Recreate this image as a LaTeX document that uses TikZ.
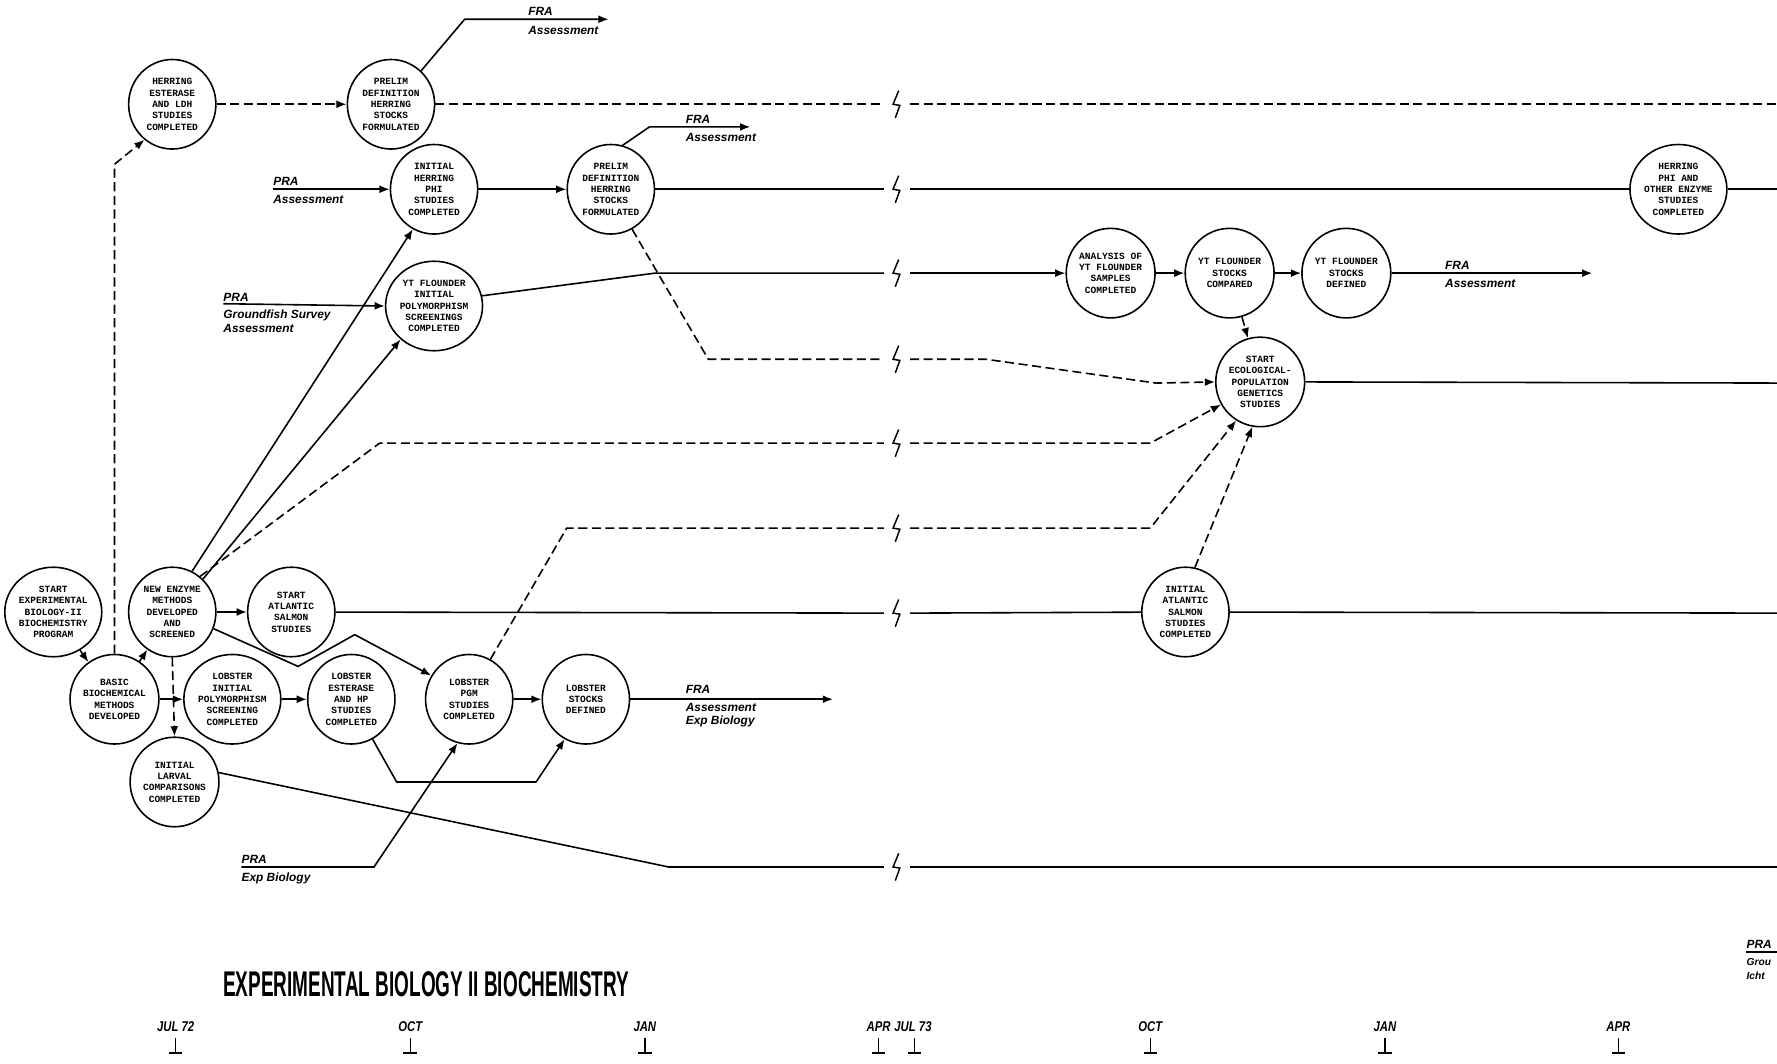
\documentclass[tikz,border=0pt]{standalone}
\usepackage{fontspec}
\setmainfont{Liberation Sans}
\setsansfont{Liberation Sans}
\setmonofont{Liberation Mono}
\usepackage{graphicx}
\usetikzlibrary{shapes.geometric,arrows.meta}
\tikzset{
  ev/.style={ellipse, draw, line width=1.4pt, minimum width=77pt, minimum height=79pt, inner sep=0pt, align=center,
    font=\ttfamily\bfseries\fontsize{8.4}{10}\selectfont},
  ln/.style={line width=1.4pt},
  dl/.style={line width=1.4pt, dash pattern=on 8pt off 4pt},
  arr/.style={-{Latex[length=9pt,width=7pt]}},
  lab/.style={anchor=west, inner sep=0pt, font=\sffamily\bfseries\itshape\fontsize{10.5}{12}\selectfont},
  mon/.style={inner sep=0pt, font=\sffamily\bfseries\itshape\fontsize{12.5}{12}\selectfont},
  brk/.pic={\draw[line width=1.3pt, line join=miter] (2,-12) -- (-3,0) -- (3,1) -- (-1,12);},
  tick/.pic={\draw[line width=1.2pt] (0,-6) -- (0,7) (-6,7) -- (6,7);}
}
\begin{document}
\begin{tikzpicture}[x=1pt,y=-1pt]
\useasboundingbox (0,0) rectangle (1568,938);

% nodes
\node[ev] (n1) at (47,540) {START\\EXPERIMENTAL\\BIOLOGY-II\\BIOCHEMISTRY\\PROGRAM};
\node[ev] (n2) at (101,617) {BASIC\\BIOCHEMICAL\\METHODS\\DEVELOPED};
\node[ev] (n3) at (152,540) {NEW ENZYME\\METHODS\\DEVELOPED\\AND\\SCREENED};
\node[ev] (n4) at (257,540) {START\\ATLANTIC\\SALMON\\STUDIES};
\node[ev] (n5) at (205,617) {LOBSTER\\INITIAL\\POLYMORPHISM\\SCREENING\\COMPLETED};
\node[ev] (n6) at (310,617) {LOBSTER\\ESTERASE\\AND HP\\STUDIES\\COMPLETED};
\node[ev] (n7) at (414,617) {LOBSTER\\PGM\\STUDIES\\COMPLETED};
\node[ev] (n8) at (517,617) {LOBSTER\\STOCKS\\DEFINED};
\node[ev] (n9) at (154,690) {INITIAL\\LARVAL\\COMPARISONS\\COMPLETED};
\node[ev] (n10) at (152,92) {HERRING\\ESTERASE\\AND LDH\\STUDIES\\COMPLETED};
\node[ev] (n11) at (345,92) {PRELIM\\DEFINITION\\HERRING\\STOCKS\\FORMULATED};
\node[ev] (n12) at (383,167) {INITIAL\\HERRING\\PHI\\STUDIES\\COMPLETED};
\node[ev] (n13) at (539,167) {PRELIM\\DEFINITION\\HERRING\\STOCKS\\FORMULATED};
\node[ev] (n14) at (383,270) {YT FLOUNDER\\INITIAL\\POLYMORPHISM\\SCREENINGS\\COMPLETED};
\node[ev] (n15) at (980,241) {ANALYSIS OF\\YT FLOUNDER\\SAMPLES\\COMPLETED};
\node[ev] (n16) at (1085,241) {YT FLOUNDER\\STOCKS\\COMPARED};
\node[ev] (n17) at (1188,241) {YT FLOUNDER\\STOCKS\\DEFINED};
\node[ev] (n18) at (1112,337) {START\\ECOLOGICAL-\\POPULATION\\GENETICS\\STUDIES};
\node[ev] (n19) at (1046,540) {INITIAL\\ATLANTIC\\SALMON\\STUDIES\\COMPLETED};
\node[ev] (n20) at (1481,167) {HERRING\\PHI AND\\OTHER ENZYME\\STUDIES\\COMPLETED};

% coordinates
\coordinate (f1) at (537,17);
\coordinate (f2) at (662,112);
\coordinate (f3) at (1405,241);
\coordinate (f4) at (735,617);
\coordinate (p1) at (241,167);
\coordinate (p2) at (197,268);
\coordinate (p3) at (213,765);
\coordinate (r92) at (1568,92);
\coordinate (r167) at (1568,167);
\coordinate (r338) at (1568,338);
\coordinate (r541) at (1568,541);
\coordinate (r765) at (1568,765);

% row 92
\draw[dl,arr] (n10) -- (n11);
\draw[dl] (n11.east) -- (780,92);
\draw[dl] (803,92) -- (r92);
\draw[ln,arr] (n11.48) -- (410,17) -- (f1);
\node[lab] (t1) at (466,10) {FRA};
\node[lab] (t2) at (466,27) {Assessment};

% row 167
\draw[ln,arr] (p1) -- (n12);
\draw[ln,arr] (n12) -- (n13);
\draw[ln] (n13) -- (780,167);
\draw[ln] (803,167) -- (n20);
\draw[ln] (n20) -- (r167);
\draw[ln,arr] (n13.75) -- (573,112) -- (f2);
\node[lab] (t3) at (605,105) {FRA};
\node[lab] (t4) at (605,121) {Assessment};
\node[lab] (t5) at (241,160) {PRA};
\node[lab] (t6) at (241,176) {Assessment};

% row 241
\draw[ln] (n14.12) -- (578,241) -- (780,241);
\draw[ln,arr] (803,241) -- (n15);
\draw[ln,arr] (n15) -- (n16);
\draw[ln,arr] (n16) -- (n17);
\draw[ln,arr] (n17) -- (f3);
\node[lab] (t7) at (1275,234) {FRA};
\node[lab] (t8) at (1275,250) {Assessment};
\draw[ln,arr] (p2) -- (n14.west);
\node[lab] (t9) at (197,262) {PRA};
\node[lab] (t10) at (197,278) {Groundfish Survey};
\node[lab] (t11) at (197,290) {Assessment};
\draw[dl,arr] (n16) -- (n18);

% row 317
\draw[dl] (n13.-62) -- (625,317) -- (780,317);
\draw[dl,arr] (803,317) -- (870,317) -- (1020,338) -- (n18.west);
\draw[ln] (n18.east) -- (r338);

% row 391
\draw[dl] (n3.52) -- (335,391) -- (780,391);
\draw[dl,arr] (803,391) -- (1015,391) -- (n18.-150);

% row 466
\draw[dl] (n7.62) -- (500,466) -- (780,466);
\draw[dl,arr] (803,466) -- (1015,466) -- (n18.-122);
\draw[dl,arr] (n19.78) -- (n18.-100);

% row 541
\draw[ln,arr] (n3) -- (n4);
\draw[ln] (n4) -- (780,541);
\draw[ln] (803,541) -- (n19);
\draw[ln] (n19) -- (r541);

% row 765
\draw[ln] (n9.12) -- (590,765) -- (780,765);
\draw[ln] (803,765) -- (r765);

% breaks
\foreach \yy in {92,167,241,317,391,466,541,765} \pic at (791,\yy) {brk};

% left cluster
\draw[ln,arr] (n1) -- (n2);
\draw[ln,arr] (n2) -- (n3);
\draw[ln,arr] (n2) -- (n5);
\draw[ln,arr] (n5) -- (n6);
\draw[ln,arr] (n7) -- (n8);
\draw[ln,arr] (n8) -- (f4);
\node[lab] (t12) at (605,608) {FRA};
\node[lab] (t13) at (605,624) {Assessment};
\node[lab] (t14) at (605,637) {Exp Biology};
\draw[dl,arr] (n2.north) -- (101,145) -- (n10.-128);
\draw[dl,arr] (n3.south) -- (n9.north);
\draw[ln,arr] (n3.64) -- (n12.-118);
\draw[ln,arr] (n3.47) -- (n14.-135);
\draw[ln,arr] (n3.-22) -- (263,588) -- (313,560) -- (n7.148);
\draw[ln,arr] (n6.-62) -- (350,690) -- (473,690) -- (n8.-118);
\draw[ln,arr] (p3) -- (330,765) -- (n7.-105);
\node[lab] (t15) at (213,758) {PRA};
\node[lab] (t16) at (213,775) {Exp Biology};

% title
\node[inner sep=0pt] (title) at (376,868) {\resizebox{358pt}{22pt}{\bfseries EXPERIMENTAL BIOLOGY II BIOCHEMISTRY}};

% timeline
\foreach \xx/\tt [count=\i] in {155/JUL 72,362/OCT,569/JAN,1015/OCT,1222/JAN,1428/APR} {
  \node[mon] (m\i) at (\xx,906) {\scalebox{0.8}[1]{\tt}};
  \pic at (\xx,922) {tick};
}
\node[mon,anchor=east] (m7) at (786,906) {\scalebox{0.8}[1]{APR}};
\node[mon,anchor=west] (m8) at (789,906) {\scalebox{0.8}[1]{JUL 73}};
\pic at (775,922) {tick};
\pic at (807,922) {tick};

% right edge partial label
\node[lab] (t17) at (1541,833) {PRA};
\draw[ln] (1541,840) -- (1568,840);
\node[lab,font=\sffamily\bfseries\itshape\fontsize{9}{10}\selectfont] (t18) at (1541,849) {Grou};
\node[lab,font=\sffamily\bfseries\itshape\fontsize{9}{10}\selectfont] (t19) at (1541,861) {Icht};
\end{tikzpicture}
\end{document}
